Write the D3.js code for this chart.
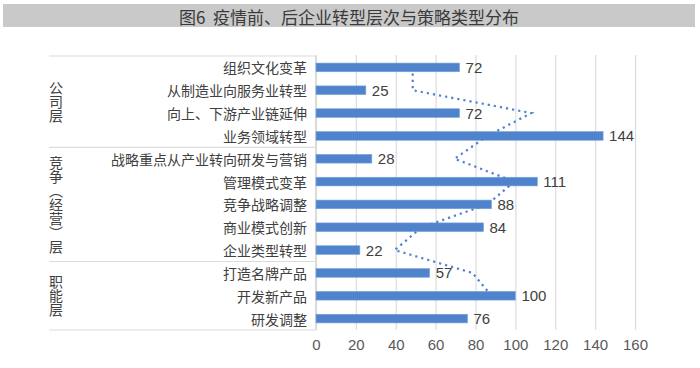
<!DOCTYPE html>
<html>
<head>
<meta charset="utf-8">
<script src="https://cdn.jsdelivr.net/npm/d3@7"></script>
<style>
  html, body { margin: 0; padding: 0; background: #ffffff; }
  svg { display: block; }
</style>
</head>
<body>
<svg id="chart" width="700" height="368"></svg>
<script>
const titleText = "图6  疫情前、后企业转型层次与策略类型分布";
const categories = ["组织文化变革","从制造业向服务业转型","向上、下游产业链延伸","业务领域转型","战略重点从产业转向研发与营销","管理模式变革","竞争战略调整","商业模式创新","企业类型转型","打造名牌产品","开发新产品","研发调整"];
const values = [72,25,72,144,28,111,88,84,22,57,100,76];
const groups = ["公司层","竞争（经营）层","职能层"];
const groupSizes = [4,5,3];
const trendValues = [48.5,48.5,108,86,69.5,99.5,86,53,39.5,78.5,88,null];
const xTicks = [0,20,40,60,80,100,120,140,160];

const W = 700, H = 368;
const plot = {left: 316, right: 635, top: 56, bottom: 330};
const cjk = "'Noto Sans CJK SC', 'Noto Sans', sans-serif";
const latin = "'Liberation Sans', Arial, sans-serif";
const barColor = "#4f83cc";
const gridColor = "#dcdcdc";

const svg = d3.select("#chart");

// Title bar
svg.append("rect").attr("x", 3).attr("y", 4).attr("width", 692).attr("height", 23)
  .attr("fill", "#c9c9c9");
svg.append("text").attr("x", 349).attr("y", 16)
  .attr("text-anchor", "middle").attr("dominant-baseline", "central")
  .attr("font-family", cjk).attr("font-size", 17).attr("fill", "#3a3a3a")
  .attr("xml:space", "preserve").style("white-space", "pre")
  .text(titleText);

const x = d3.scaleLinear().domain([0, 160]).range([plot.left, plot.right]);
const y = d3.scaleBand().domain(categories).range([plot.top, plot.bottom])
  .paddingInner(0.62).paddingOuter(0.31);
const step = y.step();
const rowTop = c => y(c) - step * y.paddingInner() / 2;

// Gridlines
const grid = svg.append("g").attr("transform", `translate(0,${plot.bottom})`)
  .call(d3.axisBottom(x).tickValues(xTicks).tickSize(-(plot.bottom - plot.top + 1)).tickFormat(""));
grid.select(".domain").remove();
grid.selectAll(".tick line").attr("stroke", gridColor).attr("stroke-width", 1.2);

// Axis labels
const ax = svg.append("g").attr("transform", `translate(0,${plot.bottom})`)
  .call(d3.axisBottom(x).tickValues(xTicks).tickSize(0).tickPadding(9));
ax.select(".domain").remove();
ax.selectAll(".tick text").attr("font-family", latin).attr("font-size", 15)
  .attr("fill", "#595959");

// Group box lines
let idx = 0;
const boundaries = [rowTop(categories[0])];
const groupCenters = [];
groupSizes.forEach(n => {
  const first = categories[idx], last = categories[idx + n - 1];
  groupCenters.push((y(first) + y(last) + y.bandwidth()) / 2);
  idx += n;
  boundaries.push(idx < categories.length ? rowTop(categories[idx]) : rowTop(last) + step);
});
svg.append("g").selectAll("line").data(boundaries).join("line")
  .attr("x1", 49).attr("x2", plot.left).attr("y1", d => d).attr("y2", d => d)
  .attr("stroke", gridColor).attr("stroke-width", 1.2);
svg.append("line").attr("x1", plot.left - 0.5).attr("x2", plot.left - 0.5)
  .attr("y1", plot.top).attr("y2", plot.bottom).attr("stroke", gridColor).attr("stroke-width", 1.2);

// Group labels (vertical)
svg.append("g").selectAll("text").data(groups).join("text")
  .attr("x", 56).attr("y", (d, i) => groupCenters[i])
  .attr("writing-mode", "vertical-rl")
  .style("writing-mode", "vertical-rl")
  .attr("text-anchor", "middle")
  .attr("font-family", cjk).attr("font-size", 14).attr("fill", "#404040")
  .text(d => d);

// Category labels
svg.append("g").selectAll("text").data(categories).join("text")
  .attr("x", 307).attr("y", d => y(d) + y.bandwidth() / 2)
  .attr("text-anchor", "end").attr("dominant-baseline", "central")
  .attr("font-family", cjk).attr("font-size", 14).attr("fill", "#404040")
  .text(d => d);

// Bars
svg.append("g").selectAll("rect").data(categories).join("rect")
  .attr("x", x(0)).attr("y", d => y(d))
  .attr("width", (d, i) => x(values[i]) - x(0)).attr("height", y.bandwidth())
  .attr("fill", barColor).attr("stroke", "#7aa3dc").attr("stroke-width", 0.6);

// Value labels
svg.append("g").selectAll("text").data(categories).join("text")
  .attr("x", (d, i) => x(values[i]) + 6).attr("y", d => y(d) + y.bandwidth() / 2)
  .attr("dominant-baseline", "central")
  .attr("font-family", latin).attr("font-size", 15).attr("fill", "#404040")
  .text((d, i) => values[i]);

// Dotted trend line
const trendPts = categories.map((c, i) => [c, trendValues[i]]).filter(d => d[1] != null);
svg.append("path").datum(trendPts)
  .attr("d", d3.line().x(d => x(d[1])).y(d => y(d[0]) + y.bandwidth() / 2))
  .attr("fill", "none").attr("stroke", barColor).attr("stroke-width", 2.2)
  .attr("stroke-dasharray", "2.2,4");
</script>
</body>
</html>
